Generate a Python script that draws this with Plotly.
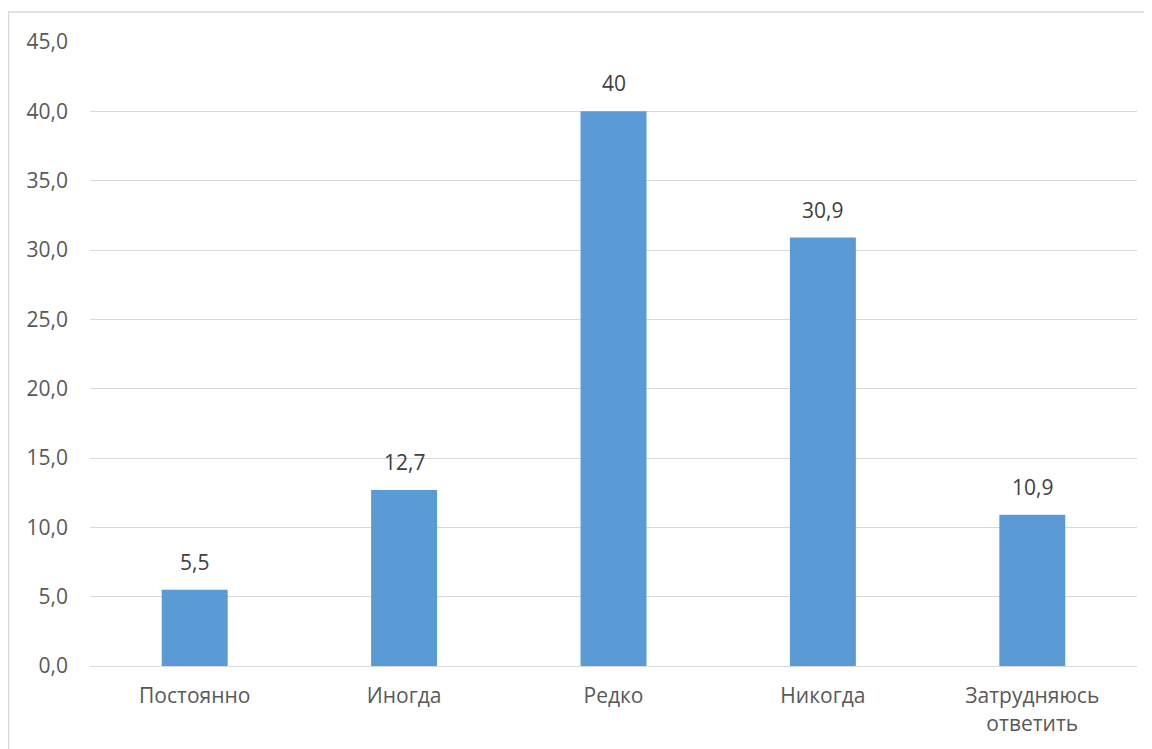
import plotly.graph_objects as go

categories = ["Постоянно", "Иногда", "Редко", "Никогда", "Затрудняюсь<br>ответить"]
values = [5.5, 12.7, 40, 30.9, 10.9]
tick_vals = [0, 5, 10, 15, 20, 25, 30, 35, 40, 45]
tick_text = ["0,0", "5,0", "10,0", "15,0", "20,0", "25,0", "30,0", "35,0", "40,0", "45,0"]

labels = [f"{v:g}".replace(".", ",") for v in values]

# page has an 8px body margin; figure coordinates are offset by 8px
W, H = 1144, 741
L, R, T, B = 82, 15, 34, 83
pw, ph = W - L - R, H - T - B

fig = go.Figure(go.Bar(
    x=categories, y=values,
    marker=dict(color="#5B9BD5", line=dict(width=0)),
    width=0.315,
))

for c, v, t in zip(categories, values, labels):
    fig.add_annotation(x=c, y=v, text=t, showarrow=False, yanchor="bottom",
                       yshift=12, font=dict(size=21, color="#404040"))

def px(x):
    return (x - L) / pw

def py(y):
    return (H - B - y) / ph

border = "#D9D9D9"
fig.update_layout(
    width=W, height=H,
    margin=dict(l=L, r=R, t=T, b=B),
    paper_bgcolor="white", plot_bgcolor="white",
    font=dict(family="Open Sans", size=21, color="#595959"),
    showlegend=False,
    xaxis=dict(showgrid=False, showline=True, linecolor=border, linewidth=1,
               ticks="", tickfont=dict(size=21, color="#595959"), ticklabelstandoff=11),
    yaxis=dict(range=[0, 45], tickvals=tick_vals, ticktext=tick_text,
               showgrid=True, gridcolor=border, gridwidth=1, zeroline=False,
               showline=False, ticks="", tickfont=dict(size=21, color="#595959"),
               ticklabelstandoff=21),
    shapes=[
        dict(type="line", xref="paper", yref="paper", x0=px(0), x1=px(W + 10), y0=py(4), y1=py(4),
             line=dict(color=border, width=1.5)),
        dict(type="line", xref="paper", yref="paper", x0=px(0.5), x1=px(0.5), y0=py(4), y1=py(H + 10),
             line=dict(color=border, width=1.5)),
    ],
)

fig.write_html("out.html")
